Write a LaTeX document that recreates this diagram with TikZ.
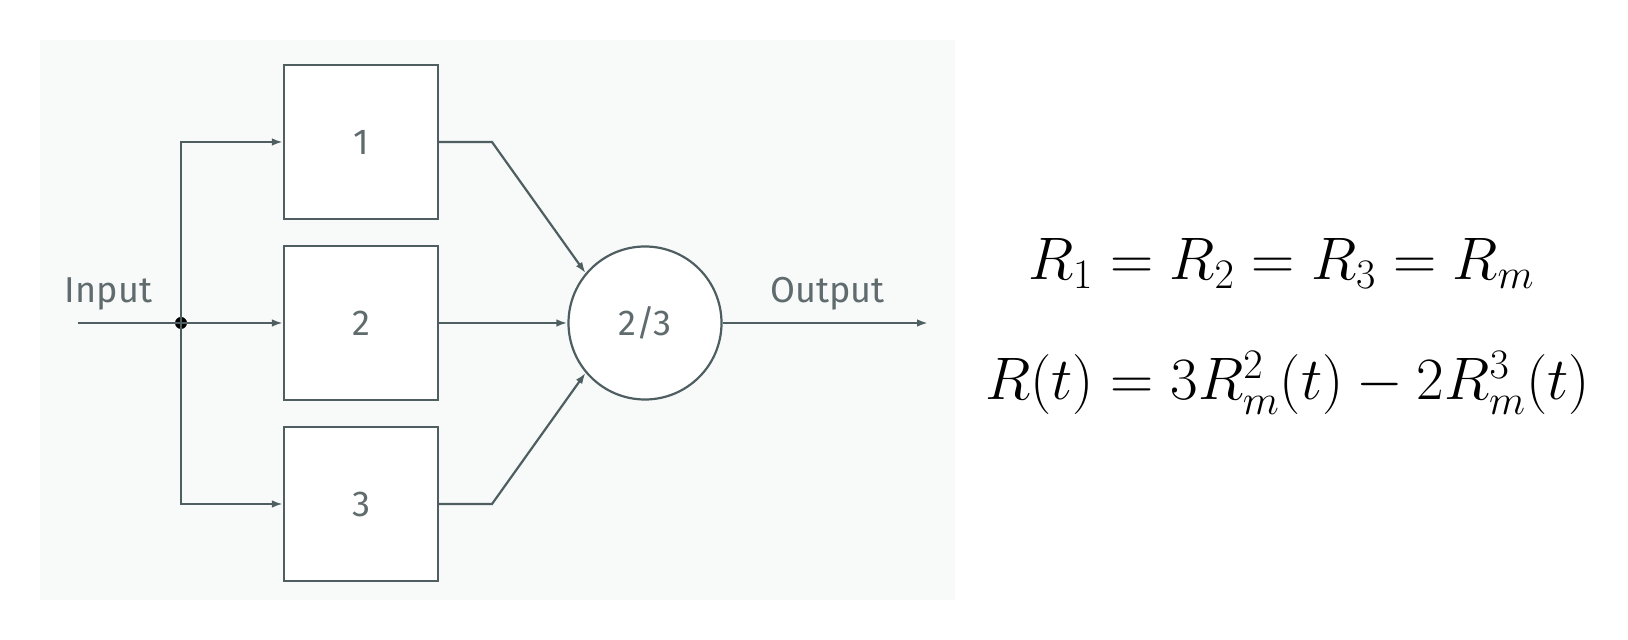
\documentclass[tikz,border=0pt]{standalone}
\usepackage{fix-cm}
\usepackage{fontspec}
\setsansfont{Fira Sans}
\usetikzlibrary{arrows.meta}
\definecolor{bgc}{HTML}{F8F9F9}
\definecolor{linec}{HTML}{4F5E61}
\definecolor{txtc}{HTML}{5F6B6D}
\begin{document}
\begin{tikzpicture}[x=0.5pt,y=-0.5pt,
  blk/.style={draw=linec, line width=1.1pt, fill=white, minimum width=77pt, minimum height=77pt, inner sep=0pt, font=\sffamily\fontsize{18}{20}\selectfont, text=txtc},
  vote/.style={circle, draw=linec, line width=1.1pt, fill=white, minimum size=76.5pt, inner sep=0pt, font=\sffamily\fontsize{18}{20}\selectfont, text=txtc},
  conn/.style={draw=linec, line width=1.1pt},
  arr/.style={conn, -{Latex[length=5.5pt,width=3.8pt]}},
  lbl/.style={font=\sffamily\fontsize{18}{20}\selectfont, text=txtc, anchor=base, inner sep=0pt},
  eq/.style={font=\fontsize{30}{36}\selectfont, anchor=base, inner sep=0pt}]
\useasboundingbox (0,0) rectangle (1628,640);
\fill[bgc] (40,40) rectangle (955,600);
\node[blk] (b1) at (361,142) {1};
\node[blk] (b2) at (361,323) {2};
\node[blk] (b3) at (361,504) {3};
\node[vote] (v) at (645,323) {2/3};
\coordinate (in) at (78,323);
\node[circle, fill=black, minimum size=6pt, inner sep=0pt] (j) at (181,323) {};
\coordinate (k1) at (492,142);
\coordinate (k3) at (492,504);
\coordinate (out) at (928,323);
\draw[conn] (in) -- (j.center);
\draw[arr] (j.center) -- (b2.west);
\draw[arr] (j.center) |- (b1.west);
\draw[arr] (j.center) |- (b3.west);
\draw[arr] (b1.east) -- (k1) -- (v.140);
\draw[arr] (b3.east) -- (k3) -- (v.220);
\draw[arr] (b2.east) -- (v.west);
\draw[arr] (v.east) -- (out);
\node[lbl] (tin) at (108.5,303) {Input};
\node[lbl] (tout) at (827.5,303) {Output};
\node[eq] (e1) at (1281.5,280) {$R_1 = R_2 = R_3 = R_m$};
\node[eq] (e2) at (1287.5,400) {$R(t) = 3R_m^2(t) - 2R_m^3(t)$};
\end{tikzpicture}
\end{document}
